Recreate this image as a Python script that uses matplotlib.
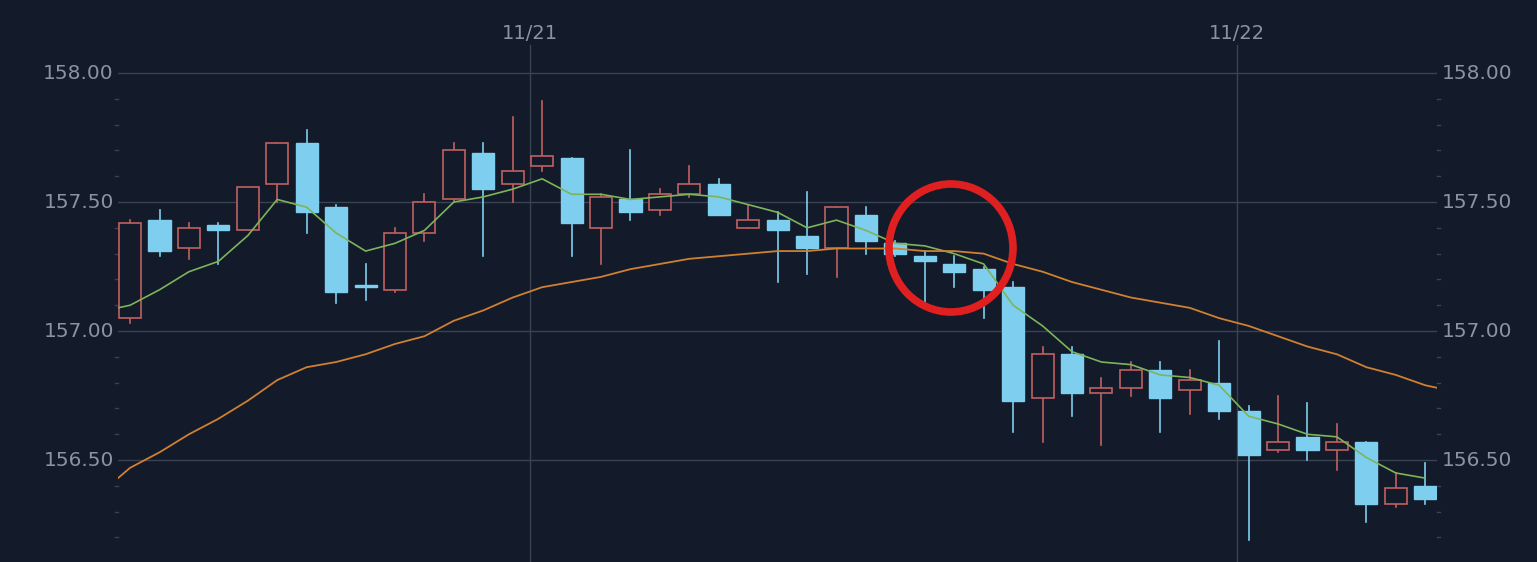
import matplotlib
matplotlib.use("Agg")
import matplotlib.pyplot as plt
from matplotlib.patches import Rectangle, Ellipse
import numpy as np

opens  = [157.05,157.43,157.32,157.41,157.39,157.57,157.73,157.48,157.18,157.16,157.38,157.51,157.69,157.57,157.64,157.67,157.40,157.51,157.47,157.53,157.57,157.40,157.43,157.37,157.32,157.45,157.34,157.29,157.26,157.24,157.17,156.74,156.91,156.76,156.78,156.85,156.77,156.80,156.69,156.54,156.59,156.54,156.57,156.33,156.40]
closes = [157.42,157.31,157.40,157.39,157.56,157.73,157.46,157.15,157.17,157.38,157.50,157.70,157.55,157.62,157.68,157.42,157.52,157.46,157.53,157.57,157.45,157.43,157.39,157.32,157.48,157.35,157.30,157.27,157.23,157.16,156.73,156.91,156.76,156.78,156.85,156.74,156.81,156.69,156.52,156.57,156.54,156.57,156.33,156.39,156.35]
highs  = [157.43,157.47,157.42,157.42,157.56,157.73,157.78,157.49,157.26,157.40,157.53,157.73,157.73,157.83,157.89,157.67,157.53,157.70,157.55,157.64,157.59,157.49,157.46,157.54,157.48,157.48,157.35,157.31,157.29,157.25,157.19,156.94,156.94,156.82,156.88,156.88,156.85,156.96,156.71,156.75,156.72,156.64,156.57,156.45,156.49]
lows   = [157.03,157.29,157.28,157.26,157.39,157.50,157.38,157.11,157.12,157.15,157.35,157.50,157.29,157.50,157.62,157.29,157.26,157.43,157.45,157.52,157.45,157.40,157.19,157.22,157.21,157.30,157.29,157.11,157.17,157.05,156.61,156.57,156.67,156.56,156.75,156.61,156.68,156.66,156.19,156.53,156.50,156.46,156.26,156.32,156.33]
ma_short = [157.10,157.16,157.23,157.27,157.37,157.51,157.48,157.38,157.31,157.34,157.39,157.50,157.52,157.55,157.59,157.53,157.53,157.51,157.52,157.53,157.52,157.49,157.46,157.40,157.43,157.39,157.34,157.33,157.30,157.26,157.10,157.02,156.92,156.88,156.87,156.83,156.82,156.79,156.67,156.64,156.60,156.59,156.51,156.45,156.43]
ma_long = [156.47,156.53,156.60,156.66,156.73,156.81,156.86,156.88,156.91,156.95,156.98,157.04,157.08,157.13,157.17,157.19,157.21,157.24,157.26,157.28,157.29,157.30,157.31,157.31,157.32,157.32,157.32,157.31,157.31,157.30,157.26,157.23,157.19,157.16,157.13,157.11,157.09,157.05,157.02,156.98,156.94,156.91,156.86,156.83,156.79]
date_labels = ["11/21", "11/22"]
date_pos = [13.59, 37.6]
yticks = [156.50, 157.00, 157.50, 158.00]

BG = "#131a2a"; GRID = "#3a4352"; TXT = "#8a93a0"
UP_EDGE = "#c0605f"; DOWN = "#7ecfef"

fig = plt.figure(figsize=(15.37, 5.62), dpi=100, facecolor=BG)
ax = fig.add_axes([118/1537, 0, (1437-118)/1537, 1])
ax.set_facecolor(BG)
ax.set_xlim(-0.41, 44.4)
ax.set_ylim(156.105, 158.283)
for s in ax.spines.values(): s.set_visible(False)
ax.set_xticks([]); ax.set_yticks([])

for y in yticks:
    ax.axhline(y, color=GRID, lw=1, zorder=0)
    ax.text(-0.55, y, f"{y:.2f}", color=TXT, fontsize=14.5, ha="right", va="center")
    ax.text(44.55, y, f"{y:.2f}", color=TXT, fontsize=14.5, ha="left", va="center", clip_on=False)
for m in np.arange(156.2, 158.0, 0.1):
    if min(abs(m - t) for t in yticks) > 0.01:
        ax.plot([-0.5, -0.41], [m, m], color=GRID, lw=1, clip_on=False)
        ax.plot([44.4, 44.49], [m, m], color=GRID, lw=1, clip_on=False)
top_line = 158 - (45 - 73) / 258
for p, lab in zip(date_pos, date_labels):
    ax.plot([p, p], [156.105, top_line], color=GRID, lw=1, zorder=0)
    ax.text(p, 158 - (33 - 73) / 258, lab, color=TXT, fontsize=14, ha="center", va="center")

w = 0.75
for i, (o, c, h, l) in enumerate(zip(opens, closes, highs, lows)):
    up = c >= o
    col = UP_EDGE if up else DOWN
    ax.plot([i, i], [l, h], color=col, lw=1.2, zorder=2)
    b, t = min(o, c), max(o, c)
    if up:
        ax.add_patch(Rectangle((i - w/2, b), w, max(t - b, 0.003), facecolor=BG, edgecolor=UP_EDGE, lw=1.2, zorder=3))
    else:
        ax.add_patch(Rectangle((i - w/2, b), w, max(t - b, 0.003), facecolor=DOWN, edgecolor=DOWN, lw=1, zorder=3))

x = np.arange(len(opens))
ax.plot(np.r_[-0.41, x], np.r_[ma_short[0] - 0.01, ma_short], color="#7db45a", lw=1.2, zorder=4)
ax.plot(np.r_[-0.41, x, 44.4], np.r_[156.43, ma_long, 156.78], color="#d08030", lw=1.3, zorder=4)

fig.patches.append(Ellipse((951/1537, 1 - 248/562), 124/1537, 128/562, transform=fig.transFigure,
                           fill=False, edgecolor="#e02020", lw=5.5, zorder=10))
fig.savefig("out.png", facecolor=BG)
